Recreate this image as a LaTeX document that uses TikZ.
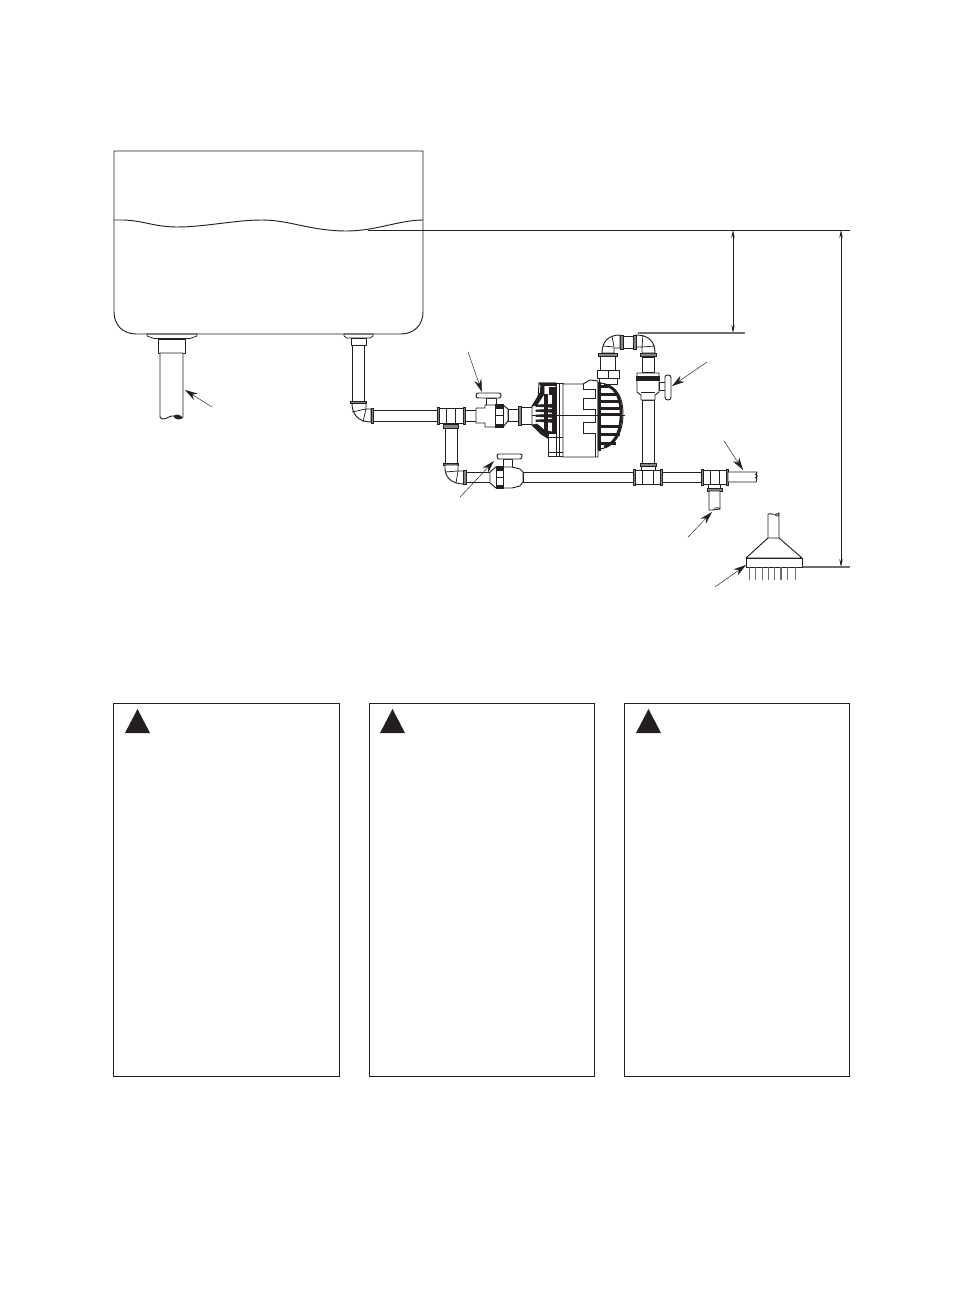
\documentclass[tikz,border=0pt]{standalone}
\usetikzlibrary{arrows.meta}
\definecolor{ink}{HTML}{231F20}
\definecolor{soft}{HTML}{6E6C6D}
\tikzset{
  pp/.style={draw=ink,fill=white,line width=0.7pt,line join=round},
  band/.style={draw=ink,fill=ink!55,line width=0.6pt},
  dark/.style={draw=ink,fill=ink,line width=0.5pt},
  ln/.style={draw=ink,line width=0.7pt},
  thin line/.style={draw=ink,line width=0.55pt},
  gray line/.style={draw=soft,line width=0.8pt},
  flange/.style={draw=ink,fill=white,line width=0.55pt,line join=round},
  leader/.style={draw=ink,line width=0.35pt,-{Stealth[length=9.5pt,width=5.5pt]}},
  dimen/.style={draw=ink,line width=0.6pt,{Stealth[length=6pt,width=2.6pt]}-{Stealth[length=6pt,width=2.6pt]}},
  panel/.style={draw=ink,fill=white,line width=0.75pt},
  warn/.style={fill=ink,draw=none},
}
\newcommand{\rbx}[4]{\draw[pp] (#1,#2) rectangle (#3,#4);}
\newcommand{\cbx}[4]{\draw[band] (#1,#2) rectangle (#3,#4);}
\begin{document}
\begin{tikzpicture}[x=0.75pt,y=-0.75pt]
\useasboundingbox (0,0) rectangle (965,1305);
% outlet flanges (under the tank line)
\draw[flange] (147,334) -- (197,334) -- (197,336) -- (190,338.5) -- (154,338.5) -- (147,336) -- cycle;
\draw[flange] (344,334) -- (373,334) -- (373,336) -- (370,338) -- (347,338) -- (344,336) -- cycle;
% tank
\draw[ln] (114,151) -- (423,151) -- (423,312) .. controls (423,325) and (414,334) .. (401,334)
  -- (136,334) .. controls (123,334) and (114,325) .. (114,312) -- cycle;
\draw[ln] (114,220) -- (124,220) .. controls (145,221) and (155,227) .. (177,227)
  .. controls (205,227) and (235,220) .. (262,220)
  .. controls (290,220) and (310,231) .. (347,231)
  .. controls (375,231) and (400,220) .. (423,220);
% level line
\coordinate (lvlA) at (368,230); \coordinate (lvlB) at (850,230);
\draw[thin line] (lvlA) -- (lvlB);
% dimension lines
\coordinate (d1a) at (733,230); \coordinate (d1b) at (733,333);
\coordinate (d2a) at (841,230); \coordinate (d2b) at (841,567);
\draw[dimen] (d1a) -- (d1b);
\draw[dimen] (d2a) -- (d2b);
\draw[gray line] (638,333) -- (745,333);
\draw[gray line] (803,567) -- (850,567);
% left outlet
\rbx{158}{339}{185}{353}
\draw[pp] (160,353) -- (183,353) -- (183,417) .. controls (181,419) and (176,419) .. (174,416)
  .. controls (170,415) and (168,419) .. (162,419) .. controls (160,418) and (160,417) .. (160,416) -- cycle;
\draw[dark] (174,416) .. controls (176,414) and (181,415) .. (182,418) .. controls (178,420) and (175,419) .. (174,416);
% right outlet
\rbx{351}{338}{366}{345}
\rbx{352}{345}{364}{401}
% elbow 1
\draw[pp] (352,403) .. controls (352,414) and (358,422) .. (371,422) -- (371,409) -- (366,409) -- (366,403) -- cycle;
\draw[thin line] (352,412) -- (366,409); \draw[thin line] (363,422) -- (366,409);
\cbx{350}{401}{366}{403}
\cbx{371}{408}{373}{423}
% horizontal pipe to tee
\rbx{373}{410}{437}{421}
% tee 1
\rbx{437}{408}{465}{423}
\cbx{437}{407}{439}{424}
\cbx{463}{407}{465}{424}
\draw[ln] (446,408) -- (446,423); \draw[ln] (455,408) -- (455,423);
\rbx{445}{423}{457}{428}
\cbx{443}{424}{458}{428}
\rbx{445}{428}{457}{463}
\cbx{443}{463}{458}{465}
% elbow 2
\draw[pp] (445,465) .. controls (444,477) and (451,484) .. (464,484) -- (464,471) -- (458,471) -- (458,465) -- cycle;
\draw[thin line] (445,472) -- (458,471); \draw[thin line] (456,483) -- (458,471);
\cbx{463}{470}{466}{484}
% valve up-left
\rbx{465}{410}{476}{421}
\rbx{486}{398}{496}{405}
\draw[pp] (476,396) .. controls (476,393) and (477,393) .. (479,393) -- (499,393) .. controls (501,393) and (501,394) .. (501,396) .. controls (501,398) and (500,398) .. (499,398) -- (479,398) .. controls (477,398) and (476,398) .. (476,396) -- cycle;
\draw[pp] (476,408) -- (485,408) -- (485,405) -- (503,405) -- (508,409) -- (508,421) -- (503,427) -- (485,427) -- (485,423) -- (476,423) -- cycle;
\draw[dark] (495,404.5) rectangle (503,408);
\draw[dark] (495,424) rectangle (503,427.5);
\draw[thin line] (495,408) -- (495,424); \draw[thin line] (503,408) -- (503,424);
\draw[ln] (496,415) -- (503,415);
\rbx{508}{409}{518}{421}
\cbx{518}{406}{521}{425}
\rbx{521}{407}{532}{424}
% lower valve and run
\rbx{466}{472}{490}{482}
\rbx{503}{459}{512}{467}
\draw[pp] (497,456) .. controls (497,454) and (498,454) .. (499,454) -- (520,454) .. controls (522,454) and (522,455) .. (522,456) .. controls (522,458) and (521,459) .. (520,459) -- (499,459) .. controls (498,459) and (497,458) .. (497,456) -- cycle;
\draw[pp] (490,472) -- (496,467) -- (512,467) -- (520,469) -- (523,472) -- (523,482) -- (520,486) -- (512,488) -- (496,488) -- (490,483) -- cycle;
\draw[dark] (496,466.5) rectangle (503,470);
\draw[dark] (496,485) rectangle (503,488.5);
\draw[thin line] (496,470) -- (496,485); \draw[thin line] (503,470) -- (503,485);
\draw[ln] (496,477) -- (503,477);
\rbx{523}{472}{633}{482}
% tee 2
\rbx{634}{470}{662}{484}
\cbx{633}{469}{635}{485}
\cbx{660}{469}{662}{485}
\draw[ln] (642,470) -- (642,484); \draw[ln] (653,470) -- (653,484);
\rbx{662}{472}{701}{482}
% tee 3
\rbx{702}{470}{728}{484}
\cbx{701}{469}{703}{485}
\cbx{726}{469}{728}{485}
\draw[ln] (710,470) -- (710,484); \draw[ln] (719,470) -- (719,484);
\draw[pp] (728,472) -- (757,472) .. controls (755,475) and (758,478) .. (756,482) -- (728,482) -- cycle;
\draw[thin line] (755,474) .. controls (758,475) and (758,477) .. (755,478);
\rbx{708}{484}{720}{488}
\cbx{707}{488}{722}{491}
\draw[pp] (709,491) -- (720,491) -- (720,509) .. controls (717,511) and (715,508) .. (712,510) -- (709,510) -- cycle;
\draw[thin line] (714,508) .. controls (716,507) and (720,508) .. (720,509);
% riser
\rbx{642}{400}{654}{463}
\cbx{640}{463}{656}{466}
\rbx{641}{466}{655}{470}
% riser valve
\draw[pp] (637,373) -- (659,373) -- (659,392) -- (655,395) -- (655,400) -- (641,400) -- (641,395) -- (637,392) -- cycle;
\draw[dark] (636.5,376) rectangle (659.5,380);
\draw[thin line] (641,392) -- (655,392);
\rbx{659}{382}{665}{390}
\draw[pp] (665,377) .. controls (665,375) and (666,375) .. (668,375) .. controls (670,375) and (671,376) .. (671,378) -- (671,397) .. controls (671,399) and (670,400) .. (668,400) .. controls (666,400) and (665,399) .. (665,397) -- cycle;
\rbx{642}{357}{654}{372}
\cbx{640}{353}{656}{356}
% top elbows
\draw[pp] (636,335) .. controls (649,335) and (655,342) .. (655,353) -- (642,353) -- (642,347) -- (636,347) -- cycle;
\draw[thin line] (642,347) -- (655,346); \draw[thin line] (643,335) -- (642,347);
\rbx{622}{336}{634}{348}
\cbx{620}{335}{623}{349}
\cbx{633}{335}{636}{349}
\draw[pp] (620,335) .. controls (608,335) and (602,342) .. (602,353) -- (614,353) -- (614,348) -- (620,348) -- cycle;
\draw[thin line] (614,347) -- (603,346); \draw[thin line] (612,336) -- (614,347);
\cbx{598}{353}{617}{356}
\rbx{600}{356}{615}{370}
\rbx{597}{370}{619}{378}
\draw[ln] (608,370) -- (608,378);
\rbx{599}{378}{617}{384}
% pump: inlet cone
\draw[pp] (532,407) -- (538,398) -- (539,383) -- (556,383) -- (556,438) -- (548,438) -- (541,434) -- (532,425) -- cycle;
\draw[dark] (539,383) -- (556,383) -- (556,385.5) -- (541,385.5) -- cycle;
\draw[dark] (532,406) -- (540,393) -- (541,385) -- (544,385) -- (544,394) -- (537,405) -- cycle;
\draw[dark] (549,387) rectangle (556,394);
\foreach \yy in {405,410,415,420}{
  \draw[dark] (536,\yy) -- (556,\yy-1) -- (556,\yy+2.5) -- (536,\yy+1.5) -- cycle;}
\draw[dark] (532,425) -- (537,424) -- (544,430) -- (552,432) -- (552,438) -- (547,438) -- cycle;
\draw[dark] (544,394) rectangle (547,432);
\draw[dark] (552,394) rectangle (555,438);
% pump: flange
\draw[pp] (548,433) rectangle (563,456);
\draw[pp] (556,383) rectangle (563,456);
\draw[ln] (559,383) -- (559,456);
\draw[ln] (548,437) -- (563,437); \draw[ln] (548,452) -- (563,452);
% pump: body
\draw[pp] (563,384) -- (583,384) -- (590,380) -- (598,381) -- (598,457) -- (563,457) -- cycle;
\draw[ln] (583,384) -- (583,389) -- (595,389) -- (595,398) -- (583,398) -- (583,409) -- (595,409)
  -- (595,422) -- (583,422) -- (583,433) -- (595,433) -- (595,457);
% pump: cage
\draw[pp] (598,383) .. controls (612,383) and (623,392) .. (623,414) .. controls (623,436) and (612,449) .. (598,449) -- cycle;
\draw[dark] (598,382) rectangle (600.5,450);
\foreach \yy/\xe in {385/607,393/617,400/620,407/620,413/620,425/620,433/619,442/615}{
  \draw[dark] (601,\yy) rectangle (\xe,\yy+2);}
\draw[ln,line width=2pt] (604,385) .. controls (613,386) and (621,394) .. (621,414) .. controls (621,434) and (613,445) .. (604,447);
% pump axis
\coordinate (axA) at (532,415); \coordinate (axB) at (625,415);
\draw[thin line] (axA) -- (axB);
% foot valve
\draw[pp] (768,538) -- (768,514) .. controls (771,513) and (775,516) .. (779,513) -- (779,538);
\draw[thin line] (775,515) .. controls (778,517) and (779,516) .. (779,514);
\draw[pp] (768,538) -- (779,538) -- (802,558) -- (746,558) -- cycle;
\rbx{746}{558}{802}{567}
\foreach \xx in {749.5,755.8,762.1,768.4,774.7,781,787.3,795.5}{
  \draw[gray line] (\xx,567) -- (\xx,580);}
% leaders
\coordinate (l1a) at (212,407); \coordinate (l1b) at (185,390);
\coordinate (l2a) at (468,352); \coordinate (l2b) at (482,392);
\coordinate (l3a) at (460,497); \coordinate (l3b) at (494,461);
\coordinate (l4a) at (707,362); \coordinate (l4b) at (672,386);
\coordinate (l5a) at (724,441); \coordinate (l5b) at (743,470);
\coordinate (l6a) at (688,537); \coordinate (l6b) at (712,512);
\coordinate (l7a) at (715,587); \coordinate (l7b) at (746,565);
\foreach \n in {1,...,7}{\draw[leader] (l\n a) -- (l\n b);}
% panels
\draw[panel] (113.5,703) rectangle (339.5,1076);
\draw[panel] (369.5,703) rectangle (594.5,1076);
\draw[panel] (624.5,703) rectangle (849.5,1076);
\fill[warn] (137.5,709) -- (150,733) -- (125,733) -- cycle;
\fill[warn] (392.5,709) -- (405,733) -- (380,733) -- cycle;
\fill[warn] (648.5,709) -- (661,733) -- (636,733) -- cycle;
\end{tikzpicture}
\end{document}
